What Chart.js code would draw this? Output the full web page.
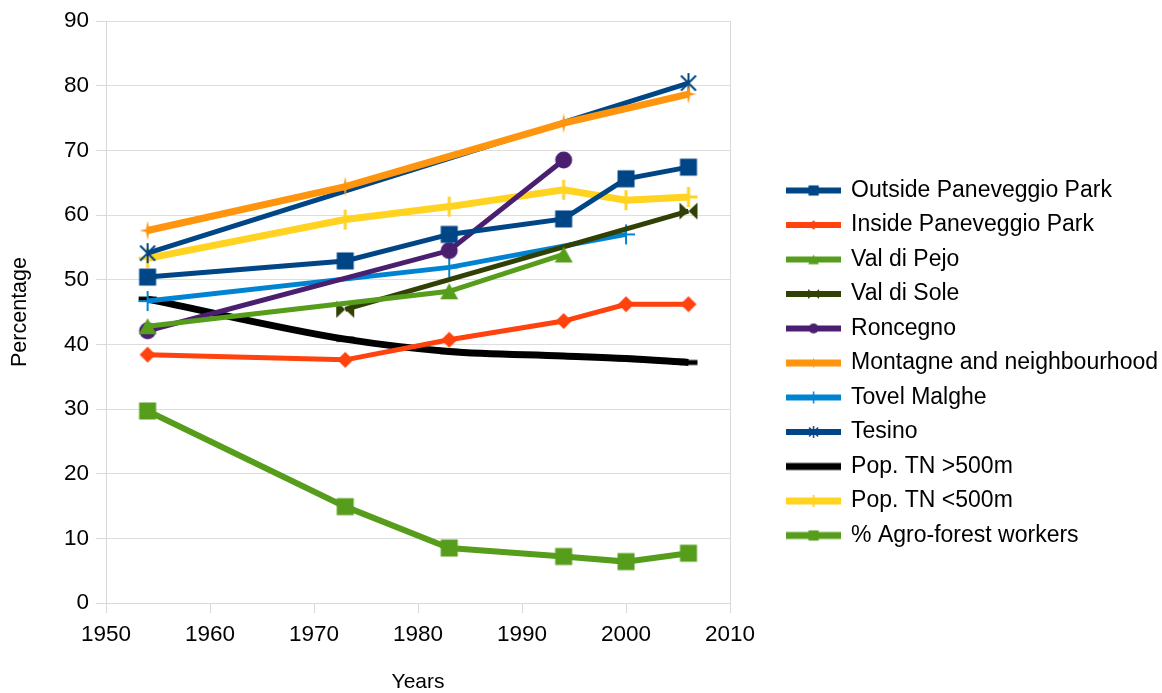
<!DOCTYPE html>
<html>
<head>
<meta charset="utf-8">
<script src="https://cdn.jsdelivr.net/npm/chart.js@4.4.1/dist/chart.umd.min.js"></script>
<style>
  html, body { margin: 0; padding: 0; background: #ffffff; }
  #wrap { width: 1162px; height: 693px; position: relative; }
</style>
</head>
<body>
<div id="wrap"><canvas id="chart"></canvas></div>
<script>
// Survey years (x values)
const years = [1954, 1973, 1983, 1994, 2000, 2006];

// Percentages per area / indicator (null = no survey that year)
const outsidePaneveggio = [50.4, 52.9, 57.0, 59.4, 65.6, 67.4];
const insidePaneveggio  = [38.4, 37.6, 40.7, 43.6, 46.2, 46.2];
const valDiPejo         = [42.8, null, 48.2, 53.9, null, null];
const valDiSole         = [null, 45.4, null, null, null, 60.6];
const roncegno          = [42.1, null, 54.5, 68.5, null, null];
const montagne          = [57.6, 64.4, null, 74.2, null, 78.7];
const tovelMalghe       = [46.7, null, 51.9, null, 57.0, null];
const tesino            = [54.1, null, null, null, null, 80.4];
const popAbove500       = [47.0, 40.8, 38.9, 38.2, 37.8, 37.2];
const popBelow500       = [53.3, 59.3, 61.3, 63.9, 62.3, 62.8];
const agroForestWorkers = [29.7, 14.9, 8.5, 7.2, 6.4, 7.7];

const seriesLabels = [
  'Outside Paneveggio Park', 'Inside Paneveggio Park', 'Val di Pejo', 'Val di Sole',
  'Roncegno', 'Montagne and neighbourhood', 'Tovel Malghe', 'Tesino',
  'Pop. TN >500m', 'Pop. TN <500m', '% Agro-forest workers'
];
const seriesValues = [
  outsidePaneveggio, insidePaneveggio, valDiPejo, valDiSole, roncegno, montagne,
  tovelMalghe, tesino, popAbove500, popBelow500, agroForestWorkers
];

// Axis ticks
const xMin = 1950, xMax = 2010, xStep = 10;
const yMin = 0, yMax = 90, yStep = 10;

const FONT = "'Liberation Sans', Arial, sans-serif";

// Look of each series: colour, line width, marker shape
const seriesStyle = [
  { color: '#004586', width: 5, marker: 'square' },
  { color: '#ff420e', width: 5, marker: 'diamond' },
  { color: '#579d1c', width: 5, marker: 'triangle' },
  { color: '#314004', width: 5, marker: 'bowtie' },
  { color: '#4b1f6f', width: 5, marker: 'circle' },
  { color: '#ff950e', width: 7, marker: 'star4' },
  { color: '#0084d1', width: 5, marker: 'plus' },
  { color: '#004586', width: 5, marker: 'asterisk' },
  { color: '#000000', width: 7, marker: 'dash' },
  { color: '#ffd320', width: 7, marker: 'plusBold' },
  { color: '#579d1c', width: 6, marker: 'square' }
];

function drawMarker(ctx, kind, color, cx, cy, s) {
  ctx.save();
  ctx.fillStyle = color;
  ctx.strokeStyle = color;
  ctx.lineCap = 'butt';
  ctx.beginPath();
  switch (kind) {
    case 'square': {
      const h = 8.5 * s;
      ctx.fillRect(cx - h, cy - h, 2 * h, 2 * h);
      break;
    }
    case 'diamond': {
      const h = 8 * s;
      ctx.moveTo(cx, cy - h); ctx.lineTo(cx + h, cy); ctx.lineTo(cx, cy + h); ctx.lineTo(cx - h, cy);
      ctx.closePath(); ctx.fill();
      break;
    }
    case 'triangle': {
      const w = 9 * s, h = 8 * s;
      ctx.moveTo(cx, cy - h); ctx.lineTo(cx + w, cy + h); ctx.lineTo(cx - w, cy + h);
      ctx.closePath(); ctx.fill();
      break;
    }
    case 'circle': {
      ctx.arc(cx, cy, 8.5 * s, 0, Math.PI * 2); ctx.fill();
      break;
    }
    case 'bowtie': {
      const w = 9 * s, h = 8.5 * s;
      ctx.moveTo(cx - w, cy - h); ctx.lineTo(cx, cy); ctx.lineTo(cx - w, cy + h); ctx.closePath();
      ctx.moveTo(cx + w, cy - h); ctx.lineTo(cx, cy); ctx.lineTo(cx + w, cy + h); ctx.closePath();
      ctx.fill();
      break;
    }
    case 'star4': {
      const v = 10 * s, hz = 8 * s, i = 1.6 * s;
      ctx.moveTo(cx, cy - v); ctx.lineTo(cx + i, cy - i); ctx.lineTo(cx + hz, cy);
      ctx.lineTo(cx + i, cy + i); ctx.lineTo(cx, cy + v); ctx.lineTo(cx - i, cy + i);
      ctx.lineTo(cx - hz, cy); ctx.lineTo(cx - i, cy - i); ctx.closePath(); ctx.fill();
      break;
    }
    case 'plus': {
      ctx.lineWidth = Math.max(1.5, 2 * s);
      ctx.moveTo(cx, cy - 10 * s); ctx.lineTo(cx, cy + 10 * s);
      ctx.moveTo(cx - 9 * s, cy); ctx.lineTo(cx + 9 * s, cy);
      ctx.stroke();
      break;
    }
    case 'plusBold': {
      ctx.lineWidth = Math.max(2, 3 * s);
      ctx.moveTo(cx, cy - 10 * s); ctx.lineTo(cx, cy + 10 * s);
      ctx.moveTo(cx - 9 * s, cy); ctx.lineTo(cx + 9 * s, cy);
      ctx.stroke();
      break;
    }
    case 'asterisk': {
      const r = 10 * s, d = 7.5 * s;
      ctx.lineWidth = Math.max(1.5, 2 * s);
      ctx.moveTo(cx, cy - r); ctx.lineTo(cx, cy + r);
      ctx.moveTo(cx - d, cy - d); ctx.lineTo(cx + d, cy + d);
      ctx.moveTo(cx - d, cy + d); ctx.lineTo(cx + d, cy - d);
      ctx.stroke();
      break;
    }
    case 'dash': {
      ctx.lineWidth = 5 * s;
      ctx.moveTo(cx - 9 * s, cy); ctx.lineTo(cx + 9 * s, cy);
      ctx.stroke();
      break;
    }
  }
  ctx.restore();
}

function markerImage(kind, color) {
  const c = document.createElement('canvas');
  c.width = 26; c.height = 26;
  drawMarker(c.getContext('2d'), kind, color, 13, 13, 1);
  return c;
}

function legendImage(kind, color, lineWidth) {
  const c = document.createElement('canvas');
  c.width = 55; c.height = 16;
  const ctx = c.getContext('2d');
  ctx.fillStyle = color;
  ctx.fillRect(0, 8 - lineWidth / 2, 55, lineWidth);
  drawMarker(ctx, kind, color, 27.5, 8, 0.6);
  return c;
}

const legendIcons = seriesStyle.map(st => legendImage(st.marker, st.color, Math.min(7, st.width + 1)));

const datasets = seriesLabels.map((label, i) => {
  const st = seriesStyle[i];
  return {
    label: label,
    data: years.map((yr, k) => ({ x: yr, y: seriesValues[i][k] })),
    borderColor: st.color,
    backgroundColor: st.color,
    borderWidth: st.width,
    pointStyle: markerImage(st.marker, st.color),
    pointRadius: 6,
    pointHoverRadius: 6,
    spanGaps: true,
    cubicInterpolationMode: i === 8 ? 'monotone' : 'default',
    tension: 0,
    fill: false
  };
});

new Chart(document.getElementById('chart'), {
  type: 'line',
  data: { datasets: datasets },
  options: {
    responsive: true,
    maintainAspectRatio: false,
    animation: false,
    events: [],
    layout: { padding: { top: 21, bottom: 0, left: 0, right: -6 } },
    plugins: {
      tooltip: { enabled: false },
      legend: {
        position: 'right',
        align: 'center',
        maxWidth: 420,
        title: { display: true, text: ' ', font: { size: 10 }, padding: 0 },
        labels: {
          usePointStyle: true,
          pointStyleWidth: 52,
          boxHeight: 23,
          padding: 11.5,
          color: '#000000',
          font: { family: FONT, size: 23 },
          generateLabels: (chart) => chart.data.datasets.map((ds, i) => ({
            text: ds.label,
            fillStyle: ds.borderColor,
            strokeStyle: ds.borderColor,
            lineWidth: 0,
            pointStyle: legendIcons[i],
            hidden: !chart.isDatasetVisible(i),
            datasetIndex: i,
            fontColor: '#000000'
          }))
        }
      }
    },
    scales: {
      x: {
        type: 'linear',
        min: xMin, max: xMax,
        afterFit: (scale) => { scale.height = 90; },
        ticks: { stepSize: xStep, color: '#000000', padding: 8, font: { family: FONT, size: 22.5 },
                 callback: (v) => String(v) },
        grid: {
          color: (c) => (c.tick && (c.tick.value === xMin || c.tick.value === xMax)) ? '#d9d9d9' : 'rgba(0,0,0,0)',
          tickColor: '#d9d9d9',
          tickLength: 10,
          lineWidth: 1
        },
        border: { display: true, color: '#d9d9d9' },
        title: { display: true, text: 'Years', color: '#000000', font: { family: FONT, size: 21 }, padding: { top: 0, bottom: -2 } }
      },
      y: {
        min: yMin, max: yMax,
        afterFit: (scale) => { scale.width = 106; },
        ticks: { stepSize: yStep, color: '#000000', padding: 7, font: { family: FONT, size: 22.5 } },
        grid: { color: '#dddddd', tickColor: '#d9d9d9', tickLength: 10, lineWidth: 1 },
        border: { display: true, color: '#d9d9d9' },
        title: { display: true, text: 'Percentage', color: '#000000', font: { family: FONT, size: 21.5 }, padding: { top: 7, bottom: 0 } }
      },
      // empty right-hand axis: keeps a gap between the plot and the legend
      gap: {
        type: 'linear',
        position: 'right',
        min: 0, max: 1,
        afterFit: (scale) => { scale.width = 46; },
        ticks: { display: false },
        grid: { display: false },
        border: { display: false }
      }
    }
  }
});
</script>
</body>
</html>
